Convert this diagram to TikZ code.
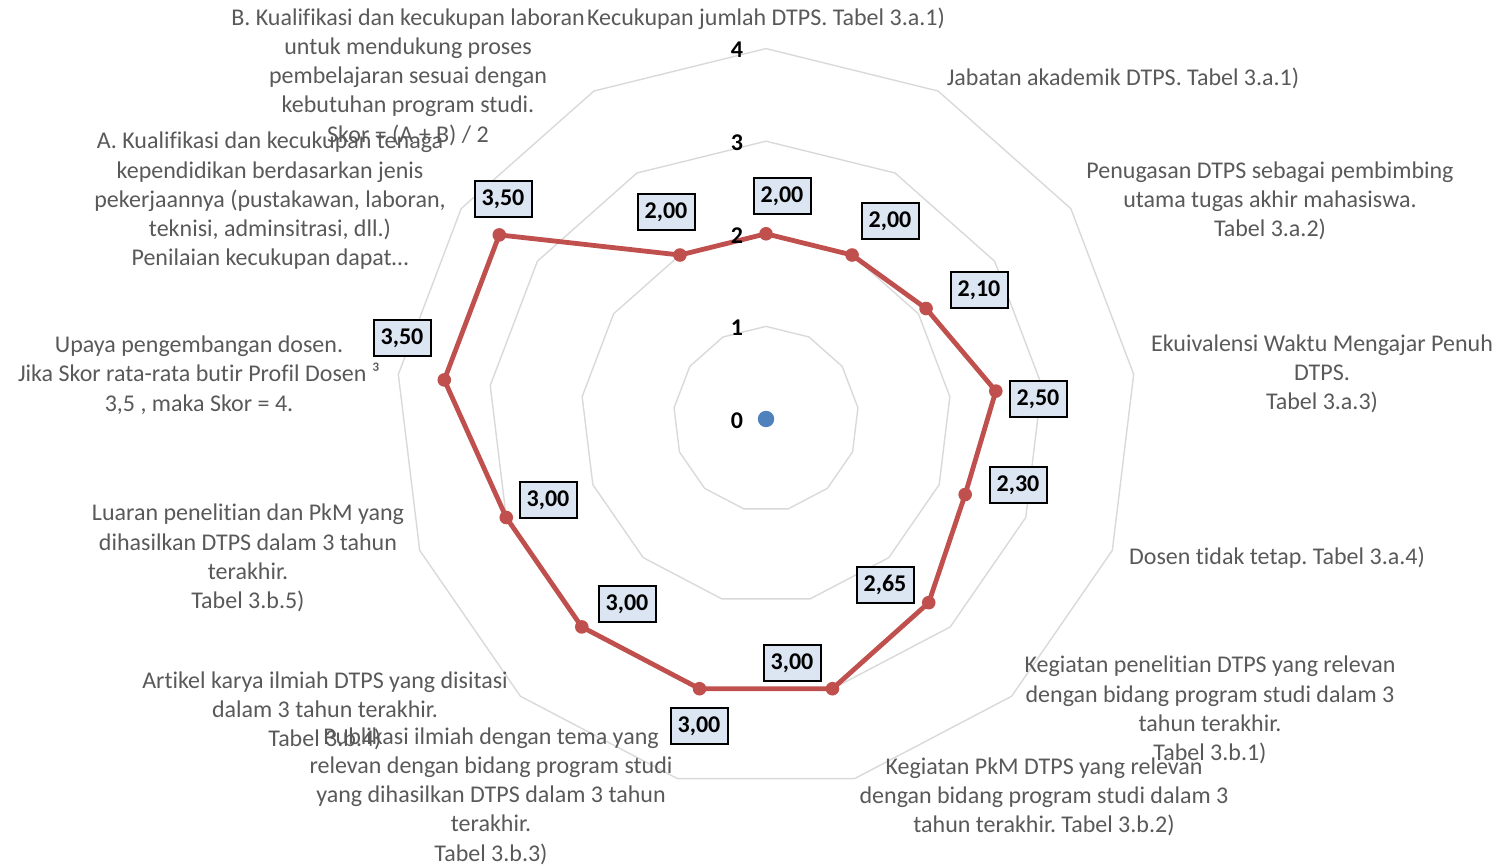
\documentclass[tikz,border=0pt]{standalone}
\usepackage{fontspec}
\setmainfont{Carlito}[Ligatures=NoCommon]
\usepackage{xcolor}
\usepackage{tikz}
\usetikzlibrary{shapes.geometric}

\definecolor{gridgray}{HTML}{D9D9D9}
\definecolor{serred}{HTML}{C0504D}
\definecolor{serblue}{HTML}{4F81BD}
\definecolor{boxblue}{HTML}{DCE6F2}
\definecolor{txtgray}{HTML}{595959}

\newcommand{\chartfont}{\fontsize{12}{14.65}\selectfont}
\frenchspacing

\tikzset{
  webring/.style={draw=gridgray, line width=0.7pt, regular polygon, regular polygon sides=13, inner sep=0pt, outer sep=0pt},
  series/.style={draw=serred, line width=2.4pt, line join=round},
  reddot/.style={circle, fill=serred, inner sep=0pt, minimum size=6.8pt},
  bluedot/.style={circle, fill=serblue, inner sep=0pt, minimum size=8.2pt},
  valbox/.style={draw=black, fill=boxblue, line width=1pt, font=\chartfont\bfseries, inner sep=0pt, minimum width=28.5pt, minimum height=18pt},
  axlabel/.style={text=txtgray, align=center, font=\chartfont},
  ticknum/.style={font=\chartfont\bfseries}
}

\begin{document}
\begin{tikzpicture}[x=0.5pt, y=-0.5pt]
\useasboundingbox (0,0) rectangle (1499,865);

\begin{scope}[shift={(766,419)}]
% rings
\node[webring, minimum size=92.6pt] (r1) at (0,0) {};
\node[webring, minimum size=185.2pt] (r2) at (0,0) {};
\node[webring, minimum size=277.8pt] (r3) at (0,0) {};
\node[webring, minimum size=370.4pt] (r4) at (0,0) {};

% data points
\coordinate (p0) at (-90:185.2);
\coordinate (p1) at (-62.308:185.2);
\coordinate (p2) at (-34.615:194.5);
\coordinate (p3) at (-6.923:231.5);
\coordinate (p4) at (20.769:213.0);
\coordinate (p5) at (48.462:245.4);
\coordinate (p6) at (76.154:277.8);
\coordinate (p7) at (103.846:277.8);
\coordinate (p8) at (131.538:277.8);
\coordinate (p9) at (159.231:277.8);
\coordinate (p10) at (186.923:324.1);
\coordinate (p11) at (214.615:324.1);
\coordinate (p12) at (242.308:185.2);

\draw[series] (p0) -- (p1) -- (p2) -- (p3) -- (p4) -- (p5) -- (p6) -- (p7)
  -- (p8) -- (p9) -- (p10) -- (p11) -- (p12) -- cycle;

\node[reddot] (m0) at (p0) {};
\node[reddot] (m1) at (p1) {};
\node[reddot] (m2) at (p2) {};
\node[reddot] (m3) at (p3) {};
\node[reddot] (m4) at (p4) {};
\node[reddot] (m5) at (p5) {};
\node[reddot] (m6) at (p6) {};
\node[reddot] (m7) at (p7) {};
\node[reddot] (m8) at (p8) {};
\node[reddot] (m9) at (p9) {};
\node[reddot] (m10) at (p10) {};
\node[reddot] (m11) at (p11) {};
\node[reddot] (m12) at (p12) {};

\node[bluedot] (z0) at (0,0) {};
\end{scope}

% scale numbers
\node[ticknum] (t0) at (737,421) {0};
\node[ticknum] (t1) at (737,328) {1};
\node[ticknum] (t2) at (737,236) {2};
\node[ticknum] (t3) at (737,143) {3};
\node[ticknum] (t4) at (737,50) {4};

% value boxes
\node[valbox] (v0) at (782,196) {2,00};
\node[valbox] (v1) at (890,221) {2,00};
\node[valbox] (v2) at (979,290) {2,10};
\node[valbox] (v3) at (1038,399) {2,50};
\node[valbox] (v4) at (1018,485) {2,30};
\node[valbox] (v5) at (885,585) {2,65};
\node[valbox] (v6) at (792,663) {3,00};
\node[valbox] (v7) at (699,726) {3,00};
\node[valbox] (v8) at (627,604) {3,00};
\node[valbox] (v9) at (548,500) {3,00};
\node[valbox] (v10) at (402,338) {3,50};
\node[valbox] (v11) at (503,199) {3,50};
\node[valbox] (v12) at (666,212) {2,00};

% category labels
\node[axlabel] (c0) at (766,19) {Kecukupan jumlah DTPS. Tabel 3.a.1)};
\node[axlabel] (c1) at (1123,78) {Jabatan akademik DTPS. Tabel 3.a.1)};
\node[axlabel] (c2) at (1270,201) {Penugasan DTPS sebagai pembimbing\\utama tugas akhir mahasiswa.\\Tabel 3.a.2)};
\node[axlabel] (c3) at (1322,374) {Ekuivalensi Waktu Mengajar Penuh\\DTPS.\\Tabel 3.a.3)};
\node[axlabel] (c4) at (1277,558) {Dosen tidak tetap. Tabel 3.a.4)};
\node[axlabel] (c5) at (1210,710) {Kegiatan penelitian DTPS yang relevan\\dengan bidang program studi dalam 3\\tahun terakhir.\\Tabel 3.b.1)};
\node[axlabel] (c6) at (1044,797) {Kegiatan PkM DTPS yang relevan\\dengan bidang program studi dalam 3\\tahun terakhir. Tabel 3.b.2)};
\node[axlabel] (c7) at (491,796) {Publikasi ilmiah dengan tema yang\\relevan dengan bidang program studi\\yang dihasilkan DTPS dalam 3 tahun\\terakhir.\\Tabel 3.b.3)};
\node[axlabel] (c8) at (325,711) {Artikel karya ilmiah DTPS yang disitasi\\dalam 3 tahun terakhir.\\Tabel 3.b.4)};
\node[axlabel] (c9) at (248,558) {Luaran penelitian dan PkM yang\\dihasilkan DTPS dalam 3 tahun\\terakhir.\\Tabel 3.b.5)};
\node[axlabel] (c10) at (199,375) {Upaya pengembangan dosen.\\Jika Skor rata-rata butir Profil Dosen ³\\3,5 , maka Skor = 4.};
\node[axlabel] (c11) at (270,201) {A. Kualifikasi dan kecukupan tenaga\\kependidikan berdasarkan jenis\\pekerjaannya (pustakawan, laboran,\\teknisi, adminsitrasi, dll.)\\Penilaian kecukupan dapat…};
\node[axlabel] (c12) at (408,77) {B. Kualifikasi dan kecukupan laboran\\untuk mendukung proses\\pembelajaran sesuai dengan\\kebutuhan program studi.\\Skor = (A + B) / 2};
\end{tikzpicture}
\end{document}
